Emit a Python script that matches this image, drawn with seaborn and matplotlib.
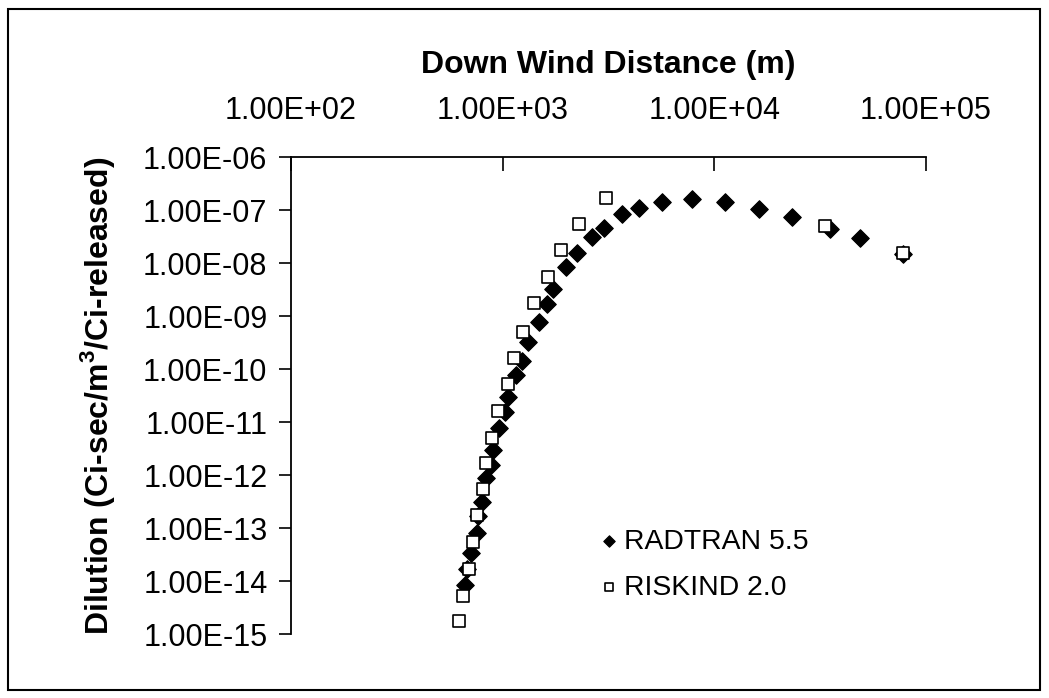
import numpy as np
import pandas as pd
import matplotlib
matplotlib.use("Agg")
import matplotlib.pyplot as plt
import seaborn as sns
from matplotlib.patches import Rectangle

# ---- data ----
radtran_x = [661, 682, 711, 753, 761, 795, 830, 877, 897, 957, 1022, 1056, 1152,
             1237, 1313, 1489, 1617, 1726, 1990, 2243, 2642, 3012, 3664, 4413,
             5673, 7870, 11270, 16170, 23170, 35090, 48650, 77800]
radtran_y = [8.4e-15, 1.68e-14, 3.33e-14, 7.94e-14, 1.68e-13, 3.10e-13, 8.77e-13,
             1.55e-12, 2.96e-12, 7.7e-12, 1.55e-11, 2.96e-11, 7.7e-11, 1.42e-10,
             3.23e-10, 7.7e-10, 1.68e-9, 3.23e-9, 8.4e-9, 1.55e-8, 3.10e-8,
             4.57e-8, 8.4e-8, 1.09e-7, 1.42e-7, 1.61e-7, 1.42e-7, 1.04e-7,
             7.4e-8, 4.38e-8, 2.96e-8, 1.48e-8]
riskind_x = [619, 653, 690, 721, 753, 804, 830, 887, 947, 1056, 1128, 1244, 1402,
             1634, 1884, 2291, 3077, 33200, 77800]
riskind_y = [1.76e-15, 5.2e-15, 1.68e-14, 5.44e-14, 1.76e-13, 5.44e-13, 1.68e-12,
             4.99e-12, 1.61e-11, 5.2e-11, 1.61e-10, 4.99e-10, 1.76e-9, 5.44e-9,
             1.76e-8, 5.44e-8, 1.68e-7, 4.99e-8, 1.52e-8]

series_names = ["RADTRAN 5.5", "RISKIND 2.0"]
x_ticks = [1e2, 1e3, 1e4, 1e5]
x_tick_labels = ["1.00E+02", "1.00E+03", "1.00E+04", "1.00E+05"]
y_ticks = [1e-6, 1e-7, 1e-8, 1e-9, 1e-10, 1e-11, 1e-12, 1e-13, 1e-14, 1e-15]
y_tick_labels = ["1.00E-06", "1.00E-07", "1.00E-08", "1.00E-09", "1.00E-10",
                 "1.00E-11", "1.00E-12", "1.00E-13", "1.00E-14", "1.00E-15"]
x_title = "Down Wind Distance (m)"
y_title = "Dilution (Ci-sec/m$^\\mathbf{3}$/Ci-released)"

df_r = pd.DataFrame({"x": radtran_x, "y": radtran_y})
df_k = pd.DataFrame({"x": riskind_x, "y": riskind_y})

sns.set_style("white")
plt.rcParams["font.family"] = ["Liberation Sans", "DejaVu Sans"]
plt.rcParams["mathtext.fontset"] = "custom"
plt.rcParams["mathtext.rm"] = "Liberation Sans"
plt.rcParams["mathtext.bf"] = "Liberation Sans:bold"
for k in ["text.color", "axes.labelcolor", "xtick.color", "ytick.color"]:
    plt.rcParams[k] = "black"

fig = plt.figure(figsize=(10.49, 6.98), dpi=100)
ax = fig.add_axes([291 / 1049, 1 - 634 / 698, (926 - 291) / 1049, (634 - 157) / 698])

sns.scatterplot(data=df_r, x="x", y="y", ax=ax, marker="D", s=80,
                color="black", edgecolor="black", linewidth=0.8,
                label=series_names[0], zorder=3)
sns.scatterplot(data=df_k, x="x", y="y", ax=ax, marker="s", s=80,
                facecolor="white", edgecolor="black", linewidth=1.2,
                label=series_names[1], zorder=4)

ax.set_xscale("log")
ax.set_yscale("log")
ax.set_xlim(1e2, 1e5)
ax.set_ylim(1e-15, 1e-6)

ax.xaxis.set_ticks_position("top")
ax.xaxis.set_label_position("top")
ax.set_xticks(x_ticks)
ax.set_xticklabels(x_tick_labels)
ax.set_yticks(y_ticks)
ax.set_yticklabels(y_tick_labels)
ax.minorticks_off()

ax.tick_params(axis="x", which="major", direction="in", length=10, width=1.2,
               labelsize=22, pad=22, colors="black", top=True, bottom=False)
ax.tick_params(axis="y", which="major", direction="out", length=9, width=1.2,
               labelsize=22, pad=8, colors="black", left=True, right=False)

for side in ["bottom", "right"]:
    ax.spines[side].set_visible(False)
for side in ["top", "left"]:
    ax.spines[side].set_color("black")
    ax.spines[side].set_linewidth(1.3)

ax.set_xlabel(x_title, fontsize=23, fontweight="bold", labelpad=17)
ax.set_ylabel(y_title, fontsize=23, fontweight="bold", labelpad=19)

leg = ax.legend(loc="center left", bbox_to_anchor=(0.46, 0.145), frameon=False,
                fontsize=20.4, markerscale=0.65, handletextpad=0.05,
                labelspacing=0.7, handlelength=1.0, borderaxespad=0)

fig.patches.append(Rectangle((8 / 1049, 1 - 690 / 698), (1040 - 8) / 1049,
                             (690 - 9) / 698, transform=fig.transFigure,
                             fill=False, edgecolor="black", linewidth=1.5))

fig.savefig("out.png", dpi=100)
